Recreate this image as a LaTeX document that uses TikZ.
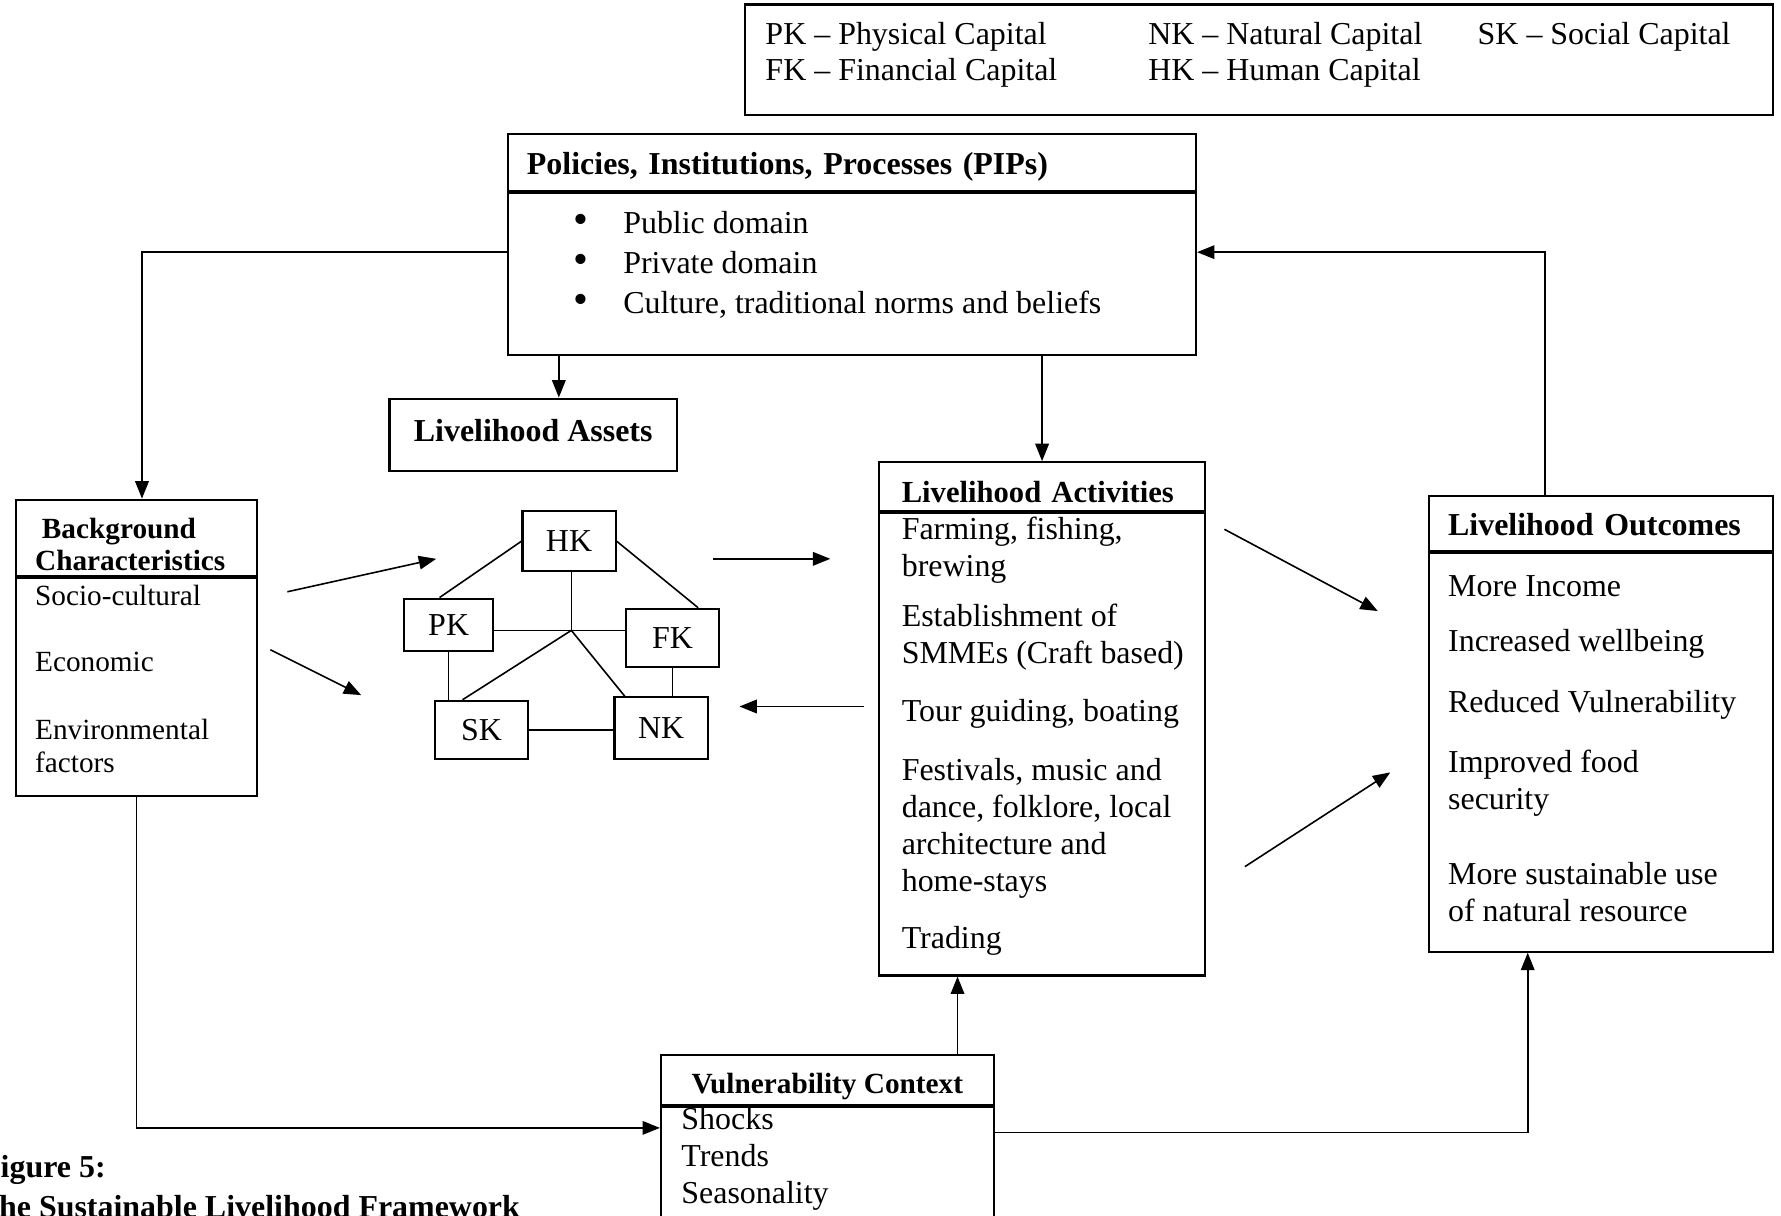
\documentclass[tikz,border=0pt]{standalone}
\usepackage{fontspec}
\setmainfont{Liberation Serif}
\usetikzlibrary{arrows.meta, calc}

% fixed-size text block: height, width, space above the first line, lines
\newcommand{\boxtext}[4]{\parbox[c][#1][t]{#2}{\raggedright\vspace*{#3}#4}}
\newcommand{\pipbullet}{\hspace*{0.62cm}{\fontsize{16}{14.9}\selectfont\textbullet}\hspace{0.455cm}}

\begin{document}
\begin{tikzpicture}[
    x=0.015cm, y=-0.015cm,
    body/.style={draw, line width=0.8pt, inner sep=0pt, inner xsep=0.255cm, anchor=north west, font=\fontsize{12}{13.9}\selectfont},
    head/.style={body, align=left, text depth=0pt, font=\bfseries\fontsize{12}{14}\selectfont},
    capital/.style={draw, line width=0.8pt, inner sep=0pt, minimum width=1.23cm, font=\fontsize{12}{14}\selectfont},
    link/.style={line width=0.6pt},
    arr/.style={link, -{Triangle[length=2.3mm, width=1.8mm]}},
    caption/.style={anchor=west, inner sep=0pt, font=\bfseries\fontsize{12}{14}\selectfont}
  ]
  \useasboundingbox (0,0) rectangle (1568,1070);

  % Legend
  \node[body, inner xsep=0.27cm, font=\fontsize{12}{13.7}\selectfont] (legend) at (655,3) {%
    \boxtext{1.455cm}{13.035cm}{0.187cm}{%
      \begin{tabular}{@{}p{5.055cm}@{}p{4.35cm}@{}l@{}}
        PK -- Physical Capital & NK -- Natural Capital & SK -- Social Capital\\
        FK -- Financial Capital & HK -- Human Capital &
      \end{tabular}}};

  % Policies, institutions, processes
  \node[head, minimum height=0.75cm, text width=8.58cm, text height=0.33cm] (pipT) at (446,117) {Policies, Institutions, Processes (PIPs)};
  \node[body, font=\fontsize{12}{14.9}\selectfont] (pipB) at (pipT.south west) {%
    \boxtext{2.145cm}{8.58cm}{0.25cm}{%
      \pipbullet Public domain\\
      \pipbullet Private domain\\
      \pipbullet Culture, traditional norms and beliefs}};

  \node[head, minimum width=3.795cm, minimum height=0.96cm, align=center, text height=0.168cm] (asset) at (342,350) {Livelihood Assets};

  % Background characteristics
  \node[head, text width=2.67cm, minimum height=1.005cm, text height=0.438cm, text depth=0.423cm, font=\bfseries\fontsize{11}{12}\selectfont] (bgT) at (13,439) {\hspace*{0.09cm}Background\\Characteristics};
  \node[body, font=\fontsize{11}{12.4}\selectfont] (bgB) at (bgT.south west) {%
    \boxtext{2.88cm}{2.67cm}{0.09cm}{%
      Socio-cultural\\[12.4pt]Economic\\[13.2pt]Environmental\\factors}};

  % Capitals
  \node[capital, minimum height=0.795cm] (HK) at (501,476.5) {HK};
  \node[capital, minimum width=1.17cm, minimum height=0.69cm] (PK) at (395,550) {PK};
  \node[capital, minimum height=0.765cm] (FK) at (592,561.5) {FK};
  \node[capital, minimum height=0.765cm] (SK) at (424,642.5) {SK};
  \node[capital, minimum height=0.81cm] (NK) at (582,641) {NK};
  \coordinate (hub) at (503,555);

  \draw[link] (HK.west) -- ($(PK.north west)!0.4!(PK.north east)$);
  \draw[link] (HK.east) -- ($(FK.north west)!0.77!(FK.north east)$);
  \draw[link] (hub |- HK.south) -- (hub);
  \draw[link] (PK.east |- hub) -- (hub) -- (FK.west |- hub);
  \draw[link] (hub) -- ($(SK.north west)!0.3!(SK.north east)$);
  \draw[link] (hub) -- ($(NK.north west)!0.12!(NK.north east)$);
  \draw[link] (PK.south) -- (PK.south |- SK.north);
  \draw[link] (FK.south) -- (FK.south |- NK.north);
  \draw[link] (SK.east) -- (SK.east -| NK.west);

  % Livelihood activities
  \node[head, text width=3.705cm, inner xsep=0.3cm, minimum height=0.645cm, text height=0.425cm, font=\bfseries\fontsize{11.5}{13}\selectfont] (actT) at (773,406) {\mbox{Livelihood Activities}};
  \node[body, inner xsep=0.3cm] (actB) at (actT.south west) {%
    \boxtext{6.105cm}{3.705cm}{0.047cm}{%
      Farming, fishing,\\brewing\\[4.9pt]
      Establishment of\\\mbox{SMMEs (Craft based)}\\[7.9pt]
      \mbox{Tour guiding, boating}\\[8.3pt]
      Festivals, music and\\dance, folklore, local\\architecture and\\home-stays\\[7.4pt]
      Trading}};

  % Livelihood outcomes
  \node[head, text width=4.035cm, minimum height=0.72cm, text height=0.318cm] (outT) at (1257,436) {Livelihood Outcomes};
  \node[body] (outB) at (outT.south west) {%
    \boxtext{5.265cm}{4.035cm}{0.294cm}{%
      More Income\\[7pt]
      Increased wellbeing\\[9.1pt]
      Reduced Vulnerability\\[8.3pt]
      Improved food\\security\\[14.3pt]
      More sustainable use\\of natural resource}};

  % Vulnerability context
  \node[head, minimum width=4.395cm, inner xsep=0pt, minimum height=0.66cm, align=center, text height=0.36cm, font=\bfseries\fontsize{11}{13}\selectfont] (vulT) at (581,928) {Vulnerability Context};
  \node[body, inner xsep=0.27cm] (vulB) at (vulT.south west) {%
    \boxtext{1.5cm}{3.855cm}{0cm}{Shocks\\Trends\\Seasonality}};

  % Free arrows between the blocks
  \coordinate (bgOutA) at (253,521);
  \coordinate (capInA) at (384,492);
  \coordinate (bgOutB) at (238,572);
  \coordinate (capInB) at (318,612);
  \coordinate (capOut) at (628,492);
  \coordinate (actIn) at (731,492);
  \coordinate (actOut) at (761,622);
  \coordinate (capIn) at (651,622);
  \coordinate (actOutA) at (1078,466);
  \coordinate (outInA) at (1213,538);
  \coordinate (actOutB) at (1096,763);
  \coordinate (outInB) at (1224,680);

  \draw[arr] (bgOutA) -- (capInA);
  \draw[arr] (bgOutB) -- (capInB);
  \draw[arr] (capOut) -- (actIn);
  \draw[arr] (actOut) -- (capIn);
  \draw[arr] (actOutA) -- (outInA);
  \draw[arr] (actOutB) -- (outInB);

  % Connectors between boxes
  \draw[arr] (pipB.west |- 0,222) -| (bgT.north -| 125,0);
  \draw[arr] (pipB.south -| 492,0) -- (asset.north -| 492,0);
  \draw[arr] (pipB.south -| actT.north) -- (actT.north);
  \draw[arr] (outT.north -| 1360,0) |- (pipB.east |- 0,222);
  \draw[arr] (bgB.south -| 120,0) |- (vulB.west |- 0,993);
  \draw[arr] (vulT.north -| 843,0) -- (actB.south -| 843,0);
  \draw[arr] (vulB.east |- 0,997) -| (outB.south -| 1345,0);

  % Caption, cut at the page edge
  \node[caption] (figno) at (-17,1030) {Figure 5:};
  \node[caption] (figtitle) at (-20,1062) {The Sustainable Livelihood Framework};
\end{tikzpicture}
\end{document}
